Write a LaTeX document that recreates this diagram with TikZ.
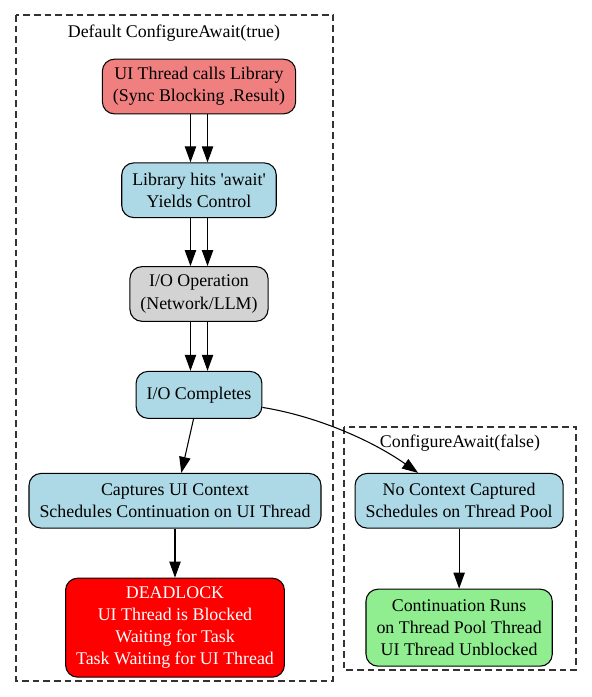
\documentclass[tikz,border=0pt]{standalone}
\usepackage{fontspec}
\setmainfont{Liberation Serif}
\usetikzlibrary{arrows.meta, positioning}
\definecolor{gvcoral}{HTML}{F08080}
\definecolor{gvblue}{HTML}{ADD8E6}
\definecolor{gvgrey}{HTML}{D3D3D3}
\definecolor{gvgreen}{HTML}{90EE90}

\begin{document}
\begin{tikzpicture}[
    x=0.75pt, y=-0.75pt,
    block/.style={rectangle, rounded corners=9pt, draw, line width=0.8pt, fill=gvblue, align=center, inner xsep=7.9pt, inner ysep=2pt, minimum height=41pt, font=\fontsize{13.4pt}{16.6pt}\selectfont},
    arrow/.style={-{Triangle[length=12pt,width=8.5pt]}, line width=0.8pt},
    cluster/.style={draw=black!80, dash pattern=on 5pt off 3pt, line width=0.8pt},
    title/.style={font=\fontsize{13.4pt}{16.6pt}\selectfont, inner sep=0pt},
    node distance=36pt
]
\useasboundingbox (0,0) rectangle (592,697);

% clusters
\draw[cluster] (16,15) rectangle (333,681);
\node[title] (deftitle) at (174,33) {Default ConfigureAwait(true)};
\draw[cluster] (344,427) rectangle (576,670);
\node[title] (falsetitle) at (460,443) {ConfigureAwait(false)};

\node[block, fill=gvcoral] (uicall) at (199,86.5) {UI Thread calls Library\\(Sync Blocking .Result)};
\node[block, below=of uicall] (libawait) {Library hits \textquotesingle await\textquotesingle\\Yields Control};
\node[block, fill=gvgrey, below=of libawait] (ioop) {I/O Operation\\(Network/LLM)};
\node[block, minimum height=35.25pt, below=36.75pt of ioop] (iodone) {I/O Completes};

\node[block, below=40.5pt of iodone, xshift=-18pt] (captures) {Captures UI Context\\Schedules Continuation on UI Thread};
\node[block, fill=red, text=white, minimum height=74.25pt, below=36.75pt of captures] (deadlock) {DEADLOCK\\UI Thread is Blocked\\Waiting for Task\\Task Waiting for UI Thread};

\node[block, right=24.75pt of captures] (nocontext) {No Context Captured\\Schedules on Thread Pool};
\node[block, fill=gvgreen, minimum height=57.75pt] (poolrun) at (nocontext |- deadlock) {Continuation Runs\\on Thread Pool Thread\\UI Thread Unblocked};

\draw[arrow] ([xshift=-6.4pt]uicall.south) -- ([xshift=-6.4pt]libawait.north);
\draw[arrow] ([xshift=6.4pt]uicall.south) -- ([xshift=6.4pt]libawait.north);
\draw[arrow] ([xshift=-6.4pt]libawait.south) -- ([xshift=-6.4pt]ioop.north);
\draw[arrow] ([xshift=6.4pt]libawait.south) -- ([xshift=6.4pt]ioop.north);
\draw[arrow] ([xshift=-6.4pt]ioop.south) -- ([xshift=-6.4pt]iodone.north);
\draw[arrow] ([xshift=6.4pt]ioop.south) -- ([xshift=6.4pt]iodone.north);

\draw[arrow] (iodone) -- (captures);
\draw[arrow] (captures) -- (deadlock);
\draw[arrow] ([yshift=-9.4pt]iodone.east) .. controls +(50,8) and +(-50,-35) .. ([xshift=-30.75pt]nocontext.north);
\draw[arrow] (nocontext) -- (poolrun);

\end{tikzpicture}
\end{document}
